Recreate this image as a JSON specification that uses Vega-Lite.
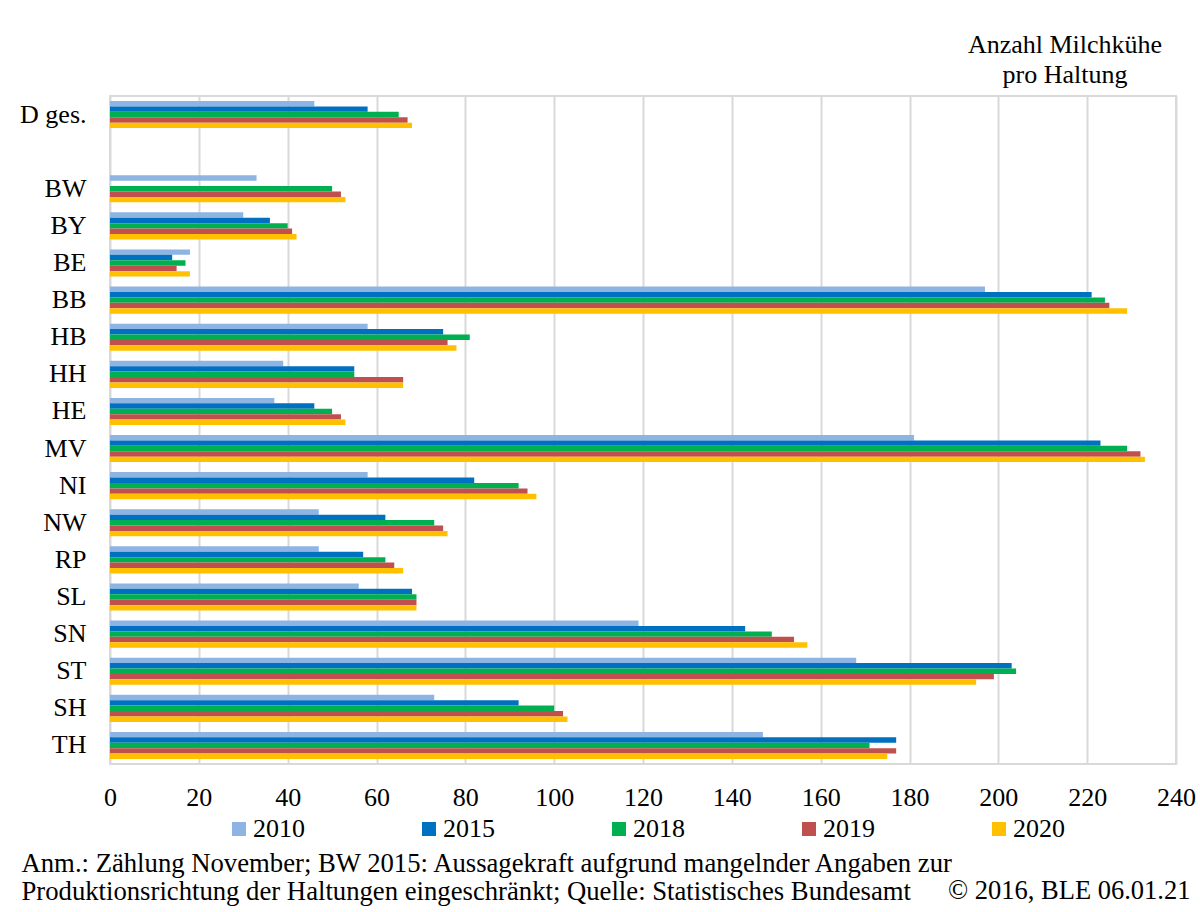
{
  "$schema": "https://vega.github.io/schema/vega-lite/v6.json",
  "width": 1066,
  "height": 668,
  "autosize": {"type": "none"},
  "padding": {"left": 110, "top": 96, "right": 24, "bottom": 148},
  "background": "white",
  "title": {
    "text": ["Anzahl Milchkühe", "pro Haltung"],
    "orient": "top",
    "anchor": "end",
    "frame": "group",
    "align": "center",
    "dx": -111,
    "offset": 8,
    "font": "Liberation Serif",
    "fontSize": 26,
    "fontWeight": "normal",
    "color": "#000000",
    "lineHeight": 30
  },
  "data": {
    "values": [
      {"region": "D ges.", "jahr": "2010", "wert": 46},
      {"region": "D ges.", "jahr": "2015", "wert": 58},
      {"region": "D ges.", "jahr": "2018", "wert": 65},
      {"region": "D ges.", "jahr": "2019", "wert": 67},
      {"region": "D ges.", "jahr": "2020", "wert": 68},
      {"region": "BW", "jahr": "2010", "wert": 33},
      {"region": "BW", "jahr": "2018", "wert": 50},
      {"region": "BW", "jahr": "2019", "wert": 52},
      {"region": "BW", "jahr": "2020", "wert": 53},
      {"region": "BY", "jahr": "2010", "wert": 30},
      {"region": "BY", "jahr": "2015", "wert": 36},
      {"region": "BY", "jahr": "2018", "wert": 40},
      {"region": "BY", "jahr": "2019", "wert": 41},
      {"region": "BY", "jahr": "2020", "wert": 42},
      {"region": "BE", "jahr": "2010", "wert": 18},
      {"region": "BE", "jahr": "2015", "wert": 14},
      {"region": "BE", "jahr": "2018", "wert": 17},
      {"region": "BE", "jahr": "2019", "wert": 15},
      {"region": "BE", "jahr": "2020", "wert": 18},
      {"region": "BB", "jahr": "2010", "wert": 197},
      {"region": "BB", "jahr": "2015", "wert": 221},
      {"region": "BB", "jahr": "2018", "wert": 224},
      {"region": "BB", "jahr": "2019", "wert": 225},
      {"region": "BB", "jahr": "2020", "wert": 229},
      {"region": "HB", "jahr": "2010", "wert": 58},
      {"region": "HB", "jahr": "2015", "wert": 75},
      {"region": "HB", "jahr": "2018", "wert": 81},
      {"region": "HB", "jahr": "2019", "wert": 76},
      {"region": "HB", "jahr": "2020", "wert": 78},
      {"region": "HH", "jahr": "2010", "wert": 39},
      {"region": "HH", "jahr": "2015", "wert": 55},
      {"region": "HH", "jahr": "2018", "wert": 55},
      {"region": "HH", "jahr": "2019", "wert": 66},
      {"region": "HH", "jahr": "2020", "wert": 66},
      {"region": "HE", "jahr": "2010", "wert": 37},
      {"region": "HE", "jahr": "2015", "wert": 46},
      {"region": "HE", "jahr": "2018", "wert": 50},
      {"region": "HE", "jahr": "2019", "wert": 52},
      {"region": "HE", "jahr": "2020", "wert": 53},
      {"region": "MV", "jahr": "2010", "wert": 181},
      {"region": "MV", "jahr": "2015", "wert": 223},
      {"region": "MV", "jahr": "2018", "wert": 229},
      {"region": "MV", "jahr": "2019", "wert": 232},
      {"region": "MV", "jahr": "2020", "wert": 233},
      {"region": "NI", "jahr": "2010", "wert": 58},
      {"region": "NI", "jahr": "2015", "wert": 82},
      {"region": "NI", "jahr": "2018", "wert": 92},
      {"region": "NI", "jahr": "2019", "wert": 94},
      {"region": "NI", "jahr": "2020", "wert": 96},
      {"region": "NW", "jahr": "2010", "wert": 47},
      {"region": "NW", "jahr": "2015", "wert": 62},
      {"region": "NW", "jahr": "2018", "wert": 73},
      {"region": "NW", "jahr": "2019", "wert": 75},
      {"region": "NW", "jahr": "2020", "wert": 76},
      {"region": "RP", "jahr": "2010", "wert": 47},
      {"region": "RP", "jahr": "2015", "wert": 57},
      {"region": "RP", "jahr": "2018", "wert": 62},
      {"region": "RP", "jahr": "2019", "wert": 64},
      {"region": "RP", "jahr": "2020", "wert": 66},
      {"region": "SL", "jahr": "2010", "wert": 56},
      {"region": "SL", "jahr": "2015", "wert": 68},
      {"region": "SL", "jahr": "2018", "wert": 69},
      {"region": "SL", "jahr": "2019", "wert": 69},
      {"region": "SL", "jahr": "2020", "wert": 69},
      {"region": "SN", "jahr": "2010", "wert": 119},
      {"region": "SN", "jahr": "2015", "wert": 143},
      {"region": "SN", "jahr": "2018", "wert": 149},
      {"region": "SN", "jahr": "2019", "wert": 154},
      {"region": "SN", "jahr": "2020", "wert": 157},
      {"region": "ST", "jahr": "2010", "wert": 168},
      {"region": "ST", "jahr": "2015", "wert": 203},
      {"region": "ST", "jahr": "2018", "wert": 204},
      {"region": "ST", "jahr": "2019", "wert": 199},
      {"region": "ST", "jahr": "2020", "wert": 195},
      {"region": "SH", "jahr": "2010", "wert": 73},
      {"region": "SH", "jahr": "2015", "wert": 92},
      {"region": "SH", "jahr": "2018", "wert": 100},
      {"region": "SH", "jahr": "2019", "wert": 102},
      {"region": "SH", "jahr": "2020", "wert": 103},
      {"region": "TH", "jahr": "2010", "wert": 147},
      {"region": "TH", "jahr": "2015", "wert": 177},
      {"region": "TH", "jahr": "2018", "wert": 171},
      {"region": "TH", "jahr": "2019", "wert": 177},
      {"region": "TH", "jahr": "2020", "wert": 175}
    ]
  },
  "mark": {"type": "bar", "orient": "horizontal"},
  "encoding": {
    "y": {
      "field": "region",
      "type": "nominal",
      "scale": {
        "domain": ["D ges.", " ", "BW", "BY", "BE", "BB", "HB", "HH", "HE", "MV", "NI", "NW", "RP", "SL", "SN", "ST", "SH", "TH"],
        "paddingInner": 0.27,
        "paddingOuter": 0.135
      },
      "axis": {
        "title": "© 2016, BLE 06.01.21",
        "titleAngle": 0,
        "titleAlign": "right",
        "titleBaseline": "alphabetic",
        "titleX": 1080,
        "titleY": 802,
        "titleFont": "Liberation Serif",
        "titleFontSize": 26.5,
        "titleFontWeight": "normal",
        "titleColor": "#000000",
        "labelFont": "Liberation Serif",
        "labelFontSize": 26,
        "labelColor": "#000000",
        "labelPadding": 24,
        "ticks": false,
        "domain": false,
        "grid": false
      }
    },
    "yOffset": {
      "field": "jahr",
      "type": "nominal",
      "scale": {"paddingInner": 0, "paddingOuter": 0}
    },
    "x": {
      "field": "wert",
      "type": "quantitative",
      "scale": {"domain": [0, 240], "nice": false},
      "axis": {
        "values": [0, 20, 40, 60, 80, 100, 120, 140, 160, 180, 200, 220, 240],
        "title": [
          "Anm.: Zählung November; BW 2015: Aussagekraft aufgrund mangelnder Angaben zur",
          "Produktionsrichtung der Haltungen eingeschränkt; Quelle: Statistisches Bundesamt"
        ],
        "titleAngle": 0,
        "titleAlign": "left",
        "titleBaseline": "alphabetic",
        "titleX": -89,
        "titleY": 107,
        "titleLineHeight": 28,
        "titleFont": "Liberation Serif",
        "titleFontSize": 26.7,
        "titleFontWeight": "normal",
        "titleColor": "#000000",
        "labelFont": "Liberation Serif",
        "labelFontSize": 26,
        "labelColor": "#000000",
        "labelPadding": 20,
        "labelFlush": false,
        "ticks": false,
        "domain": false,
        "grid": true,
        "gridColor": "#D9D9D9",
        "gridWidth": 2
      }
    },
    "color": {
      "field": "jahr",
      "type": "nominal",
      "scale": {
        "domain": ["2010", "2015", "2018", "2019", "2020"],
        "range": ["#8EB4E3", "#0070C0", "#00B050", "#C0504D", "#FFC000"]
      },
      "legend": {
        "title": null,
        "orient": "none",
        "direction": "horizontal",
        "columns": 5,
        "legendX": 116,
        "legendY": 720,
        "padding": 0,
        "columnPadding": 111,
        "symbolType": "square",
        "symbolSize": 196,
        "symbolStrokeWidth": 0,
        "labelOffset": 1,
        "labelFont": "Liberation Serif",
        "labelFontSize": 26,
        "labelColor": "#000000"
      }
    }
  },
  "config": {
    "font": "Liberation Serif",
    "view": {"stroke": "#D9D9D9", "strokeWidth": 2}
  }
}
